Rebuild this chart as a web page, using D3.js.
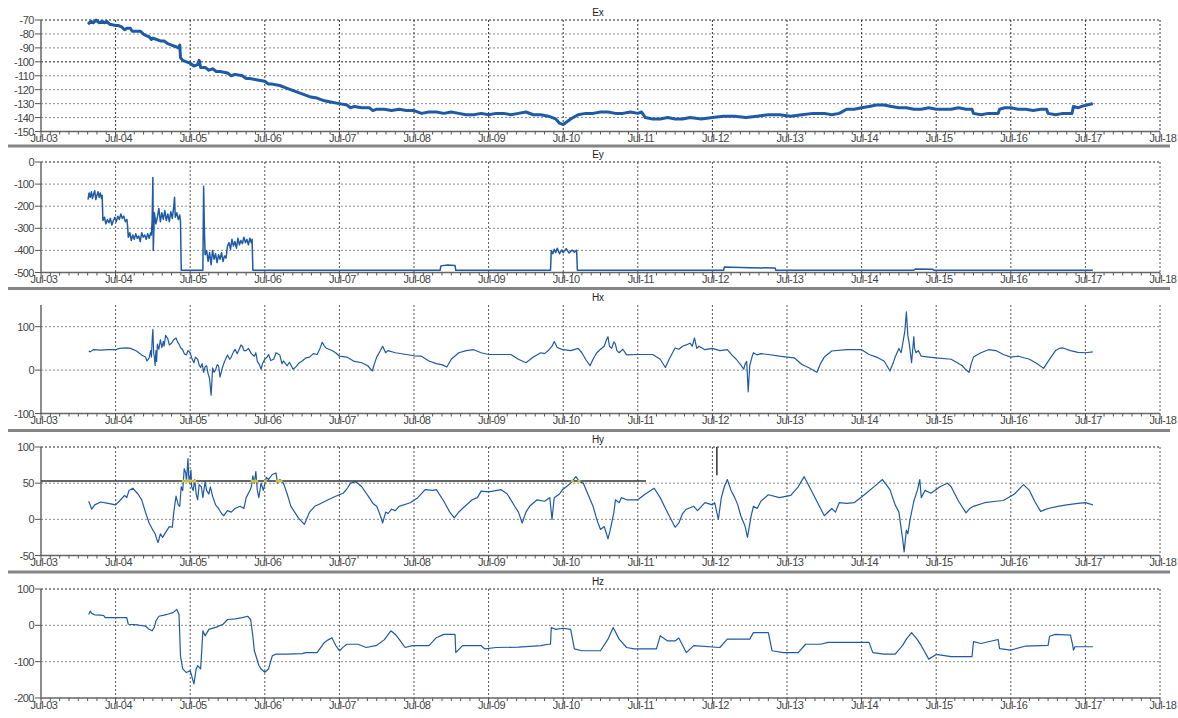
<!doctype html>
<html>
  <head>
    <title>Ex Ey Hx Hy Hz</title>
    <style>
      body { margin: 0; background: #fff; }
      svg text { font-family: 'Liberation Sans', Arial, sans-serif; }
    </style>
  </head>
  <body>
    <svg width='1178' height='718'></svg>

  <script src='https://cdnjs.cloudflare.com/ajax/libs/d3/7.8.5/d3.min.js'></script>
  <script>
// Readings as [day offset from Jul-03 00:00, value], estimated from the plot.
var exData = [
  [0.63,-73],[0.67,-71],[0.7,-72],[0.74,-70],[0.78,-72],[0.82,-71],[0.85,-72],[0.88,-71],[0.92,-73],
  [1.0,-74],[1.04,-74],[1.08,-75],[1.12,-77],[1.15,-76],[1.2,-76],[1.22,-78],[1.25,-78],[1.33,-78],
  [1.37,-80],[1.4,-81],[1.45,-82],[1.48,-84],[1.5,-83],[1.55,-84],[1.6,-85],[1.65,-85],[1.7,-87],
  [1.75,-88],[1.8,-89],[1.84,-90],[1.86,-88],[1.87,-97],[1.9,-99],[1.95,-100],[2.0,-101],[2.05,-103],
  [2.1,-102],[2.12,-99],[2.14,-104],[2.2,-104],[2.25,-106],[2.3,-105],[2.35,-107],[2.4,-107],[2.5,-108],
  [2.55,-110],[2.6,-109],[2.7,-110],[2.75,-112],[2.8,-112],[2.9,-113],[3.0,-114],[3.05,-116],[3.1,-116],
  [3.2,-117],[3.3,-119],[3.4,-121],[3.5,-123],[3.6,-125],[3.7,-126],[3.8,-128],[3.9,-129],[4.0,-130],
  [4.1,-131],[4.15,-133],[4.2,-132],[4.3,-133],[4.4,-133],[4.45,-135],[4.5,-134],[4.6,-134],[4.7,-135],
  [4.8,-134],[4.9,-135],[5.0,-135],[5.1,-137],[5.2,-136],[5.3,-136],[5.4,-137],[5.5,-136],[5.6,-137],
  [5.7,-138],[5.8,-138],[5.9,-137],[6.0,-138],[6.1,-137],[6.2,-137],[6.3,-138],[6.4,-137],[6.5,-136],
  [6.6,-138],[6.7,-138],[6.8,-139],[6.9,-141],[6.95,-144],[7.0,-145],[7.05,-143],[7.1,-141],[7.2,-138],
  [7.3,-137],[7.4,-137],[7.5,-136],[7.6,-136],[7.7,-137],[7.8,-137],[7.9,-136],[8.0,-137],[8.05,-136],
  [8.1,-140],[8.2,-141],[8.3,-141],[8.4,-140],[8.5,-141],[8.6,-141],[8.7,-140],[8.85,-141],[9.0,-140],
  [9.15,-139],[9.3,-139],[9.45,-140],[9.6,-139],[9.75,-138],[9.9,-138],[10.05,-139],[10.2,-138],
  [10.35,-137],[10.5,-137],[10.6,-138],[10.7,-137],[10.8,-134],[10.9,-134],[11.0,-133],[11.1,-132],
  [11.2,-131],[11.3,-131],[11.4,-132],[11.5,-133],[11.6,-133],[11.7,-134],[11.8,-134],[11.9,-133],
  [12.0,-134],[12.1,-134],[12.2,-134],[12.3,-133],[12.4,-134],[12.48,-134],[12.5,-137],[12.6,-138],
  [12.7,-137],[12.83,-137],[12.85,-134],[12.92,-133],[13.0,-133],[13.1,-134],[13.2,-134],[13.3,-135],
  [13.4,-134],[13.48,-134],[13.5,-137],[13.6,-138],[13.7,-137],[13.82,-137],[13.84,-132],[13.9,-133],
  [13.95,-132],[14.02,-131],[14.1,-130]
];

var eyData = [
  [0.63,-170],[0.645,-140],[0.66,-160],[0.675,-135],[0.69,-165],[0.705,-145],[0.72,-130],[0.735,-170],
  [0.75,-150],[0.765,-135],[0.78,-160],[0.795,-140],[0.81,-165],[0.82,-150],[0.83,-265],[0.85,-250],
  [0.87,-280],[0.89,-260],[0.91,-275],[0.93,-255],[0.95,-285],[0.97,-265],[0.99,-250],[1.01,-270],
  [1.03,-245],[1.05,-260],[1.07,-235],[1.09,-255],[1.11,-245],[1.13,-270],[1.15,-260],[1.16,-285],
  [1.17,-340],[1.19,-320],[1.21,-355],[1.23,-330],[1.25,-350],[1.27,-325],[1.29,-345],[1.31,-335],
  [1.33,-360],[1.35,-320],[1.37,-340],[1.39,-330],[1.41,-350],[1.43,-325],[1.45,-345],[1.47,-320],
  [1.48,-330],[1.49,-260],[1.5,-70],[1.505,-400],[1.52,-230],[1.54,-280],[1.56,-250],[1.58,-210],
  [1.6,-270],[1.62,-230],[1.64,-260],[1.66,-220],[1.68,-265],[1.7,-235],[1.72,-270],[1.74,-225],
  [1.76,-255],[1.78,-200],[1.79,-160],[1.8,-250],[1.82,-230],[1.84,-260],[1.86,-240],[1.87,-270],
  [1.88,-490],[2.0,-490],[2.17,-490],[2.18,-110],[2.19,-300],[2.2,-420],[2.22,-400],[2.24,-450],
  [2.26,-410],[2.28,-465],[2.3,-400],[2.32,-440],[2.34,-415],[2.36,-455],[2.38,-420],[2.4,-440],
  [2.42,-410],[2.44,-450],[2.46,-425],[2.48,-435],[2.5,-380],[2.52,-365],[2.54,-395],[2.56,-350],
  [2.58,-380],[2.6,-360],[2.62,-390],[2.64,-345],[2.66,-375],[2.68,-355],[2.7,-370],[2.72,-340],
  [2.74,-365],[2.76,-350],[2.78,-375],[2.8,-345],[2.82,-365],[2.83,-350],[2.84,-490],[5.35,-490],
  [5.36,-470],[5.45,-466],[5.55,-468],[5.56,-490],[6.83,-490],[6.84,-400],[6.86,-415],[6.88,-395],
  [6.9,-410],[6.92,-390],[6.95,-415],[6.98,-398],[7.0,-410],[7.04,-392],[7.08,-412],[7.12,-398],
  [7.15,-408],[7.18,-400],[7.19,-490],[9.15,-490],[9.16,-475],[9.5,-478],[9.84,-480],[9.85,-490],
  [11.7,-490],[11.72,-484],[11.95,-485],[11.97,-490],[14.1,-490]
];

var hxData = [
  [0.64,44],[0.66,42],[0.7,47],[0.8,46],[0.9,47],[1.0,47],[1.05,50],[1.15,51],[1.2,50],[1.28,44],
  [1.35,35],[1.4,30],[1.42,21],[1.45,28],[1.47,45],[1.48,30],[1.49,70],[1.5,94],[1.51,40],[1.52,30],
  [1.53,10],[1.54,45],[1.55,20],[1.56,60],[1.58,48],[1.6,70],[1.62,52],[1.64,66],[1.65,55],[1.67,80],
  [1.7,72],[1.72,58],[1.75,62],[1.78,70],[1.81,74],[1.83,65],[1.85,60],[1.87,52],[1.9,47],[1.92,38],
  [1.95,35],[1.97,45],[2.0,40],[2.02,28],[2.05,17],[2.07,30],[2.1,25],[2.12,12],[2.14,6],[2.16,15],
  [2.18,-5],[2.2,8],[2.22,10],[2.24,-8],[2.26,-20],[2.28,-58],[2.29,-30],[2.3,5],[2.32,-5],[2.34,0],
  [2.36,12],[2.38,10],[2.4,-16],[2.42,-2],[2.43,5],[2.46,20],[2.5,35],[2.53,25],[2.55,30],[2.58,42],
  [2.6,48],[2.63,38],[2.65,45],[2.68,58],[2.7,55],[2.72,45],[2.75,45],[2.78,50],[2.82,38],[2.86,32],
  [2.88,40],[2.9,20],[2.93,12],[2.95,2],[2.97,15],[3.0,25],[3.03,30],[3.05,36],[3.08,22],[3.12,25],
  [3.15,40],[3.2,35],[3.23,15],[3.25,21],[3.3,10],[3.33,18],[3.38,2],[3.42,8],[3.45,15],[3.5,21],
  [3.55,28],[3.6,30],[3.65,38],[3.7,36],[3.74,50],[3.77,64],[3.8,55],[3.82,51],[3.9,45],[3.95,40],
  [4.0,32],[4.1,30],[4.2,20],[4.3,17],[4.38,10],[4.44,-2],[4.48,20],[4.5,30],[4.55,45],[4.58,55],
  [4.62,40],[4.65,45],[4.75,40],[4.9,36],[5.0,33],[5.1,32],[5.2,21],[5.3,15],[5.38,12],[5.44,7],
  [5.5,25],[5.6,40],[5.7,45],[5.8,47],[5.9,40],[6.0,36],[6.15,36],[6.3,36],[6.4,25],[6.5,17],
  [6.6,30],[6.7,40],[6.75,38],[6.8,45],[6.85,55],[6.88,66],[6.92,52],[6.95,50],[7.0,47],[7.1,45],
  [7.2,50],[7.25,40],[7.3,25],[7.36,10],[7.4,25],[7.45,40],[7.5,48],[7.55,55],[7.58,70],[7.6,77],
  [7.62,55],[7.65,50],[7.68,65],[7.7,60],[7.72,45],[7.75,40],[7.8,48],[7.85,35],[8.0,36],[8.2,36],
  [8.3,25],[8.37,6],[8.42,25],[8.45,35],[8.5,51],[8.55,48],[8.6,55],[8.65,58],[8.7,62],[8.73,55],
  [8.76,74],[8.79,50],[8.82,55],[8.9,47],[9.0,50],[9.1,45],[9.2,47],[9.26,35],[9.32,25],[9.38,12],
  [9.42,2],[9.44,15],[9.46,20],[9.48,-50],[9.5,10],[9.53,30],[9.55,40],[9.6,35],[9.65,38],[9.75,36],
  [9.9,32],[10.0,30],[10.1,28],[10.2,13],[10.3,5],[10.4,-5],[10.45,15],[10.5,30],[10.6,44],
  [10.8,47],[11.0,47],[11.1,36],[11.2,30],[11.3,21],[11.34,10],[11.38,-2],[11.42,15],[11.45,30],
  [11.5,50],[11.53,40],[11.55,60],[11.58,90],[11.6,134],[11.62,80],[11.64,60],[11.67,17],[11.7,77],
  [11.71,50],[11.73,40],[11.76,45],[11.8,32],[11.9,30],[12.0,28],[12.2,25],[12.3,15],[12.35,10],
  [12.39,2],[12.44,-5],[12.47,15],[12.5,30],[12.6,40],[12.7,47],[12.8,45],[12.9,36],[13.0,30],
  [13.1,32],[13.25,25],[13.35,15],[13.44,4],[13.5,20],[13.6,45],[13.65,50],[13.7,51],[13.8,45],
  [13.9,41],[14.0,40],[14.1,42]
];

var hyData = [
  [0.64,25],[0.68,14],[0.72,20],[0.8,24],[0.9,22],[1.0,20],[1.05,25],[1.12,33],[1.15,30],[1.18,40],
  [1.23,43],[1.3,35],[1.35,27],[1.4,10],[1.45,-5],[1.5,-15],[1.53,-20],[1.55,-27],[1.57,-32],
  [1.6,-20],[1.63,-25],[1.67,-18],[1.72,-10],[1.76,-11],[1.78,10],[1.81,32],[1.84,20],[1.86,18],
  [1.88,45],[1.9,40],[1.92,70],[1.94,64],[1.95,52],[1.97,84],[1.98,60],[1.99,50],[2.01,68],
  [2.02,45],[2.04,40],[2.06,55],[2.08,35],[2.1,27],[2.12,48],[2.15,45],[2.17,30],[2.2,52],[2.22,40],
  [2.25,35],[2.27,45],[2.3,32],[2.34,20],[2.38,15],[2.42,8],[2.45,5],[2.5,12],[2.55,10],[2.6,15],
  [2.67,18],[2.72,15],[2.75,30],[2.8,40],[2.82,45],[2.84,60],[2.86,50],[2.88,66],[2.9,40],[2.92,30],
  [2.95,50],[2.98,40],[3.02,58],[3.05,55],[3.1,62],[3.15,64],[3.17,50],[3.2,55],[3.25,50],[3.3,35],
  [3.35,18],[3.4,10],[3.45,2],[3.53,-7],[3.6,10],[3.67,18],[3.75,22],[3.85,27],[3.95,32],[4.05,36],
  [4.1,42],[4.15,50],[4.22,52],[4.3,45],[4.4,30],[4.45,22],[4.5,18],[4.55,5],[4.58,-5],[4.62,10],
  [4.65,8],[4.7,14],[4.75,12],[4.8,18],[4.95,23],[5.05,30],[5.15,41],[5.25,40],[5.3,41],[5.4,25],
  [5.48,10],[5.54,2],[5.6,10],[5.65,15],[5.78,27],[5.85,30],[5.9,39],[6.0,38],[6.17,41],[6.25,35],
  [6.35,18],[6.4,10],[6.45,-5],[6.5,10],[6.55,18],[6.65,27],[6.75,25],[6.82,30],[6.85,0],[6.88,30],
  [6.95,35],[6.99,41],[7.1,50],[7.17,59],[7.22,52],[7.27,50],[7.33,35],[7.4,18],[7.45,0],[7.5,-14],
  [7.55,-10],[7.58,-20],[7.6,-27],[7.63,-15],[7.65,-5],[7.68,10],[7.7,27],[7.75,23],[7.78,30],
  [7.85,27],[8.0,27],[8.1,35],[8.22,43],[8.3,30],[8.4,9],[8.5,-11],[8.55,-5],[8.6,8],[8.65,14],
  [8.75,18],[8.8,12],[8.9,23],[9.0,20],[9.03,23],[9.08,0],[9.12,30],[9.16,45],[9.2,55],[9.25,40],
  [9.3,30],[9.34,20],[9.38,5],[9.44,-10],[9.47,-25],[9.52,5],[9.55,18],[9.6,15],[9.65,25],[9.75,34],
  [9.9,30],[10.05,33],[10.15,45],[10.23,59],[10.3,45],[10.4,25],[10.5,5],[10.6,15],[10.65,10],
  [10.7,23],[10.8,22],[10.9,23],[11.05,35],[11.2,48],[11.28,55],[11.38,41],[11.45,20],[11.5,10],
  [11.52,-5],[11.55,-27],[11.57,-45],[11.6,-15],[11.62,-20],[11.65,0],[11.7,25],[11.75,41],
  [11.78,55],[11.8,30],[11.85,40],[11.93,36],[12.05,45],[12.15,50],[12.2,45],[12.3,25],[12.4,9],
  [12.45,15],[12.5,18],[12.65,23],[12.8,25],[12.9,26],[13.05,35],[13.17,48],[13.25,40],[13.32,25],
  [13.4,11],[13.45,13],[13.5,15],[13.63,18],[13.75,20],[13.9,22],[14.0,23],[14.1,20]
];

var hzData = [
  [0.64,30],[0.66,39],[0.68,33],[0.72,29],[0.8,28],[0.84,27],[0.86,21],[1.0,21],[1.15,21],[1.17,3],
  [1.3,1],[1.4,-2],[1.45,-11],[1.49,-15],[1.52,-5],[1.54,12],[1.58,25],[1.65,28],[1.72,32],[1.77,35],
  [1.82,44],[1.85,30],[1.87,-84],[1.9,-120],[1.95,-130],[2.0,-125],[2.05,-161],[2.08,-120],[2.1,-111],
  [2.14,-120],[2.17,-15],[2.2,-29],[2.25,-11],[2.35,-5],[2.44,3],[2.5,16],[2.6,18],[2.7,21],[2.77,25],
  [2.81,16],[2.84,-30],[2.86,-70],[2.92,-110],[2.95,-120],[3.0,-129],[3.05,-120],[3.1,-84],[3.15,-79],
  [3.3,-79],[3.5,-78],[3.55,-75],[3.7,-75],[3.8,-47],[3.85,-40],[3.9,-34],[3.95,-55],[4.0,-70],
  [4.05,-60],[4.1,-52],[4.25,-52],[4.36,-61],[4.5,-55],[4.6,-40],[4.69,-15],[4.75,-25],[4.8,-38],
  [4.88,-61],[4.98,-56],[5.2,-56],[5.25,-45],[5.3,-34],[5.4,-25],[5.55,-25],[5.56,-75],[5.65,-56],
  [5.9,-56],[5.95,-65],[6.1,-61],[6.4,-60],[6.7,-56],[6.8,-52],[6.83,-52],[6.84,-6],[6.9,-11],
  [7.0,-8],[7.1,-11],[7.15,-65],[7.25,-70],[7.5,-70],[7.6,-38],[7.67,-6],[7.75,-38],[7.85,-61],
  [7.95,-65],[8.25,-65],[8.3,-29],[8.4,-43],[8.5,-43],[8.55,-35],[8.65,-75],[8.75,-56],[9.1,-61],
  [9.2,-38],[9.5,-38],[9.55,-20],[9.75,-20],[9.8,-70],[9.95,-75],[10.15,-75],[10.25,-52],[10.45,-52],
  [10.55,-47],[11.1,-47],[11.15,-75],[11.3,-79],[11.45,-79],[11.55,-55],[11.6,-38],[11.67,-20],
  [11.75,-40],[11.8,-56],[11.9,-93],[12.0,-80],[12.2,-86],[12.48,-86],[12.5,-45],[12.6,-50],
  [12.83,-39],[12.85,-64],[13.0,-68],[13.2,-57],[13.5,-55],[13.52,-30],[13.6,-25],[13.8,-27],
  [13.83,-55],[13.84,-68],[13.86,-59],[14.1,-59]
];

// Hy reference marks drawn in black on the plot
var hyLevel = 53, hyLevelEndDay = 8.11;
var hyMarkDay = 9.06, hyMarkRange = [61, 100];

var panelNames = ['Ex', 'Ey', 'Hx', 'Hy', 'Hz'];
var panelSeries = [exData, eyData, hxData, hyData, hzData];
var panelDomains = [[-150, -70], [-500, 0], [-100, 150], [-50, 100], [-200, 100]];
var panelTickSteps = [10, 100, 100, 50, 100];

// layout (pixels)
var panelTops = [20, 162, 305, 447, 589];
var panelBottoms = [131.5, 272.5, 413.5, 555.5, 698];
var separators = [146, 288.5, 430.5, 572];
var left = 41, right = 1160;

var svg = d3.select('svg');
var t0 = new Date(2017, 6, 3), t1 = new Date(2017, 6, 18);
function toDate(day) { return new Date(t0.getTime() + day * 864e5); }

var x = d3.scaleTime().domain([t0, t1]).range([left, right]);
var days = d3.timeDay.range(t0, d3.timeDay.offset(t1, 1));
var minor = d3.timeHour.every(3).range(t0, t1).filter(function(d) { return d.getHours() !== 0; });
var fmt = d3.timeFormat('%b-%d');

separators.forEach(function(s) {
  svg.append('line').attr('x1', 8).attr('x2', 1170).attr('y1', s).attr('y2', s)
    .attr('stroke', '#858585').attr('stroke-width', 3);
});

panelNames.forEach(function(name, p) {
  var top = panelTops[p], bottom = panelBottoms[p];
  var y = d3.scaleLinear().domain(panelDomains[p]).range([bottom, top]);
  var step = panelTickSteps[p];
  var yTicks = d3.range(panelDomains[p][0], panelDomains[p][1] + 0.001, step);
  var g = svg.append('g');

  // horizontal grid
  yTicks.slice(1).forEach(function(v) {
    var dark = (p === 0 && (v === -100 || v === -70)) || v === panelDomains[p][1];
    g.append('line').attr('x1', left).attr('x2', right)
      .attr('y1', y(v)).attr('y2', y(v))
      .attr('stroke', dark ? '#222' : '#8a8a8a')
      .attr('stroke-dasharray', '2,2');
  });
  // vertical grid
  days.slice(1).forEach(function(d) {
    g.append('line').attr('x1', x(d)).attr('x2', x(d))
      .attr('y1', top).attr('y2', bottom)
      .attr('stroke', p === 0 ? '#333' : '#555')
      .attr('stroke-dasharray', '2,2');
  });

  // series
  var line = d3.line()
    .x(function(d) { return x(toDate(d[0])); })
    .y(function(d) { return y(d[1]); });
  g.append('path').datum(panelSeries[p])
    .attr('d', line)
    .attr('fill', 'none')
    .attr('stroke', '#1f5aa6')
    .attr('stroke-width', p === 0 ? 3 : (p === 1 ? 1.5 : 1.2))
    .attr('stroke-linejoin', 'round');

  // axes
  g.append('line').attr('x1', left).attr('x2', left).attr('y1', top).attr('y2', bottom)
    .attr('stroke', '#666').attr('stroke-width', 1.5);
  g.append('line').attr('x1', left).attr('x2', right).attr('y1', bottom).attr('y2', bottom)
    .attr('stroke', '#666').attr('stroke-width', 1.5);

  yTicks.forEach(function(v) {
    g.append('line').attr('x1', left - 6).attr('x2', left).attr('y1', y(v)).attr('y2', y(v))
      .attr('stroke', '#555');
    g.append('text').attr('x', left - 7).attr('y', y(v) + 4)
      .attr('text-anchor', 'end').attr('font-size', 11).attr('fill', '#444')
      .attr('letter-spacing', -0.5)
      .text(v);
  });

  minor.forEach(function(d) {
    g.append('line').attr('x1', x(d)).attr('x2', x(d)).attr('y1', bottom).attr('y2', bottom + 3)
      .attr('stroke', '#555');
  });
  days.forEach(function(d) {
    g.append('line').attr('x1', x(d)).attr('x2', x(d)).attr('y1', bottom).attr('y2', bottom + 6)
      .attr('stroke', '#444');
    g.append('text').attr('x', x(d) + 3).attr('y', bottom + 10.5)
      .attr('text-anchor', 'middle').attr('font-size', 11).attr('fill', '#444')
      .attr('letter-spacing', -0.5)
      .text(fmt(d));
  });

  g.append('text').attr('x', 598).attr('y', top - 4)
    .attr('text-anchor', 'middle').attr('font-size', 10).attr('fill', '#222')
    .text(name);

  if (name === 'Hy') {
    g.append('line').attr('x1', left).attr('x2', x(toDate(hyLevelEndDay)))
      .attr('y1', y(hyLevel)).attr('y2', y(hyLevel))
      .attr('stroke', '#333').attr('stroke-width', 1.5);
    g.append('line').attr('x1', x(toDate(hyMarkDay))).attr('x2', x(toDate(hyMarkDay)))
      .attr('y1', y(hyMarkRange[0])).attr('y2', y(hyMarkRange[1]))
      .attr('stroke', '#333').attr('stroke-width', 1.5);
    // yellow points where Hy crosses the level before the line ends
    hyData.forEach(function(d, i) {
      if (i === 0 || d[0] > hyLevelEndDay) return;
      var a = hyData[i - 1];
      if ((a[1] - hyLevel) * (d[1] - hyLevel) < 0) {
        var f = (hyLevel - a[1]) / (d[1] - a[1]);
        var day = a[0] + f * (d[0] - a[0]);
        g.append('circle').attr('cx', x(toDate(day))).attr('cy', y(hyLevel)).attr('r', 1.6)
          .attr('fill', '#c9c23a');
      }
    });
  }
});
  </script>
  </body>
</html>
